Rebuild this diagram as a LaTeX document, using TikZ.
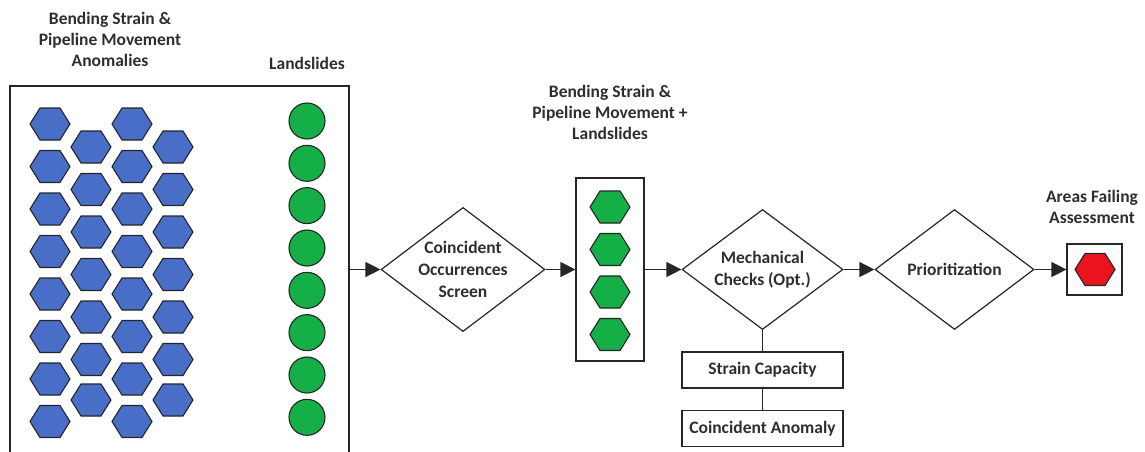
\documentclass[tikz,border=0pt]{standalone}
\usepackage{fontspec}
\setmainfont{Carlito}
\usetikzlibrary{arrows.meta,shapes.geometric}
\definecolor{hexblue}{RGB}{72,110,200}
\definecolor{hexgreen}{RGB}{20,175,70}
\definecolor{hexred}{RGB}{235,20,30}
\newcommand{\hexat}[3]{\filldraw[hexline,fill=#3] (#1,#2) ++(-20,0) -- ++(10,-16) -- ++(20,0) -- ++(10,16) -- ++(-10,16) -- ++(-20,0) -- cycle;}
\tikzset{
  hexline/.style={draw=black!85,line width=1.1pt},
  title/.style={font=\fontsize{17.5}{21}\selectfont\bfseries, text=black!82, align=center, inner sep=0},
  frame/.style={draw=black!85, line width=1.2pt},
  decision/.style={diamond, draw=black!85, line width=1.2pt, aspect=1.32, inner sep=0, font=\fontsize{17.5}{22}\selectfont\bfseries, text=black!82, align=center},
  smallbox/.style={draw=black!85, line width=1.2pt, minimum width=161pt, minimum height=36pt, inner sep=0, font=\fontsize{17.5}{21}\selectfont\bfseries, text=black!82},
  flow/.style={draw=black!85, line width=1.2pt, -{Triangle[length=15pt,width=15pt]}},
  link/.style={draw=black!85, line width=1.2pt},
  dot/.style={circle, draw=black!85, line width=1.1pt, fill=hexgreen, minimum size=36pt, inner sep=0}
}
\begin{document}
\begin{tikzpicture}[x=1pt,y=-1pt]
\useasboundingbox (0,0) rectangle (1145,451);
% titles
\node[title] (t1) at (110,39) {Bending Strain \&\\Pipeline Movement\\Anomalies};
\node[title] (t2) at (307,63) {Landslides};
\node[title] (t3) at (610,112) {Bending Strain \&\\Pipeline Movement +\\Landslides};
\node[title] (t4) at (1092,207) {Areas Failing\\Assessment};
% big input box
\path[frame] (10,460) -- (10,86) -- (349,86) -- (349,460);
\coordinate (inR) at (349,269.5);
% blue hexagons
\foreach \y in {124,166.5,209,251.5,294,336.5,379,421.5} {\hexat{50}{\y}{hexblue}\hexat{132}{\y}{hexblue}}
\foreach \y in {147,189.5,232,274.5,317,359.5,400} {\hexat{91}{\y}{hexblue}\hexat{173}{\y}{hexblue}}
% green dots
\foreach \y [count=\i] in {121,163.3,205.6,248,290.3,332.6,375,417.3} {\node[dot] (g\i) at (307,\y) {};}
% decision 1
\node[decision, minimum width=160pt, minimum height=121pt] (d1) at (463,269.5) {Coincident\\Occurrences\\Screen};
% box 2
\node[frame, minimum width=68pt, minimum height=183pt, inner sep=0] (b2) at (610,269.5) {};
\foreach \y in {207,249.5,292,334.5} {\hexat{610}{\y}{hexgreen}}
% decision 2
\node[decision, minimum width=161pt, minimum height=120pt] (d2) at (762.5,269.5) {Mechanical\\Checks (Opt.)};
\node[smallbox] (sc) at (762.5,370) {Strain Capacity};
\node[smallbox] (ca) at (762.5,428.5) {Coincident Anomaly};
% decision 3
\node[decision, minimum width=159pt, minimum height=120pt] (d3) at (954.5,269.5) {Prioritization};
% output box
\node[frame, minimum width=55pt, minimum height=51pt, inner sep=0] (b4) at (1094.5,269.5) {};
\hexat{1095}{269.5}{hexred}
% connectors
\draw[flow] (inR) -- (d1.west);
\draw[flow] (d1.east) -- (b2.west);
\draw[flow] (b2.east) -- (d2.west);
\draw[flow] (d2.east) -- (d3.west);
\draw[flow] (d3.east) -- (b4.west);
\draw[link] (d2.south) -- (sc.north);
\draw[link] (sc.south) -- (ca.north);
\end{tikzpicture}
\end{document}
